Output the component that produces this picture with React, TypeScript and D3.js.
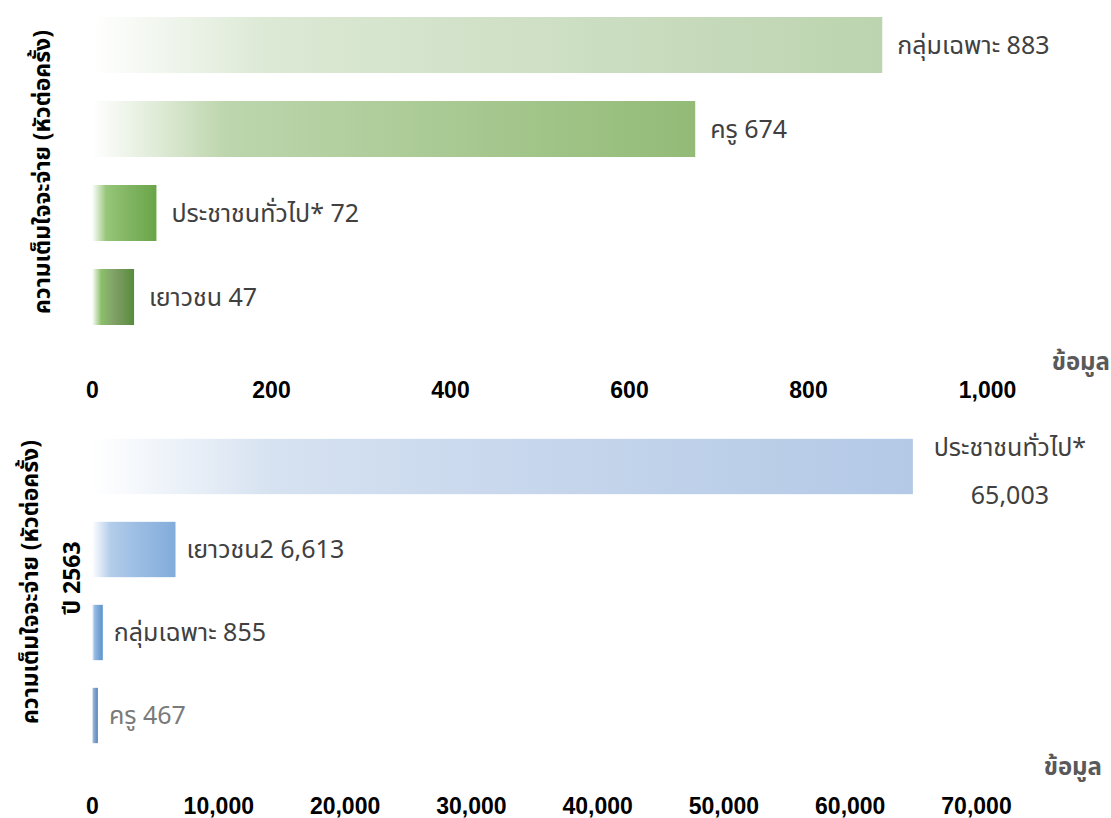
import React, { useEffect, useRef } from "react";
import * as d3 from "d3";

// Willingness to pay, two panels
const topCategories = ["กลุ่มเฉพาะ", "ครู", "ประชาชนทั่วไป*", "เยาวชน"];
const topValues = [883, 674, 72, 47];
const topColors = ["#bcd4af", "#93bb77", "#6aa548", "#578c3c"];
const topMidColors = ["#dce9d5", "#bdd6ad", "#96c678", "#8cbf6a"];
const topMid2Colors = ["#cfe0c6", "#abcb96", "#82b564", "#7f9e67"];
const topTicks = [0, 200, 400, 600, 800, 1000];

const bottomCategories = ["ประชาชนทั่วไป*", "เยาวชน2", "กลุ่มเฉพาะ", "ครู"];
const bottomValues = [65003, 6613, 855, 467];
const bottomColors = ["#b3c9e6", "#82acdb", "#5c94cf", "#5985bb"];
const bottomMidColors = ["#d6e2f1", "#b3cdea", "#9cbde2", "#9ab6d6"];
const bottomMid2Colors = ["#c6d6ec", "#9bbde3", "#7ca8d8", "#7a9ec8"];
const bottomTicks = [0, 10000, 20000, 30000, 40000, 50000, 60000, 70000];

const W = 1111;
const H = 818;
const THAI = "'Noto Sans Thai', 'Noto Sans', Tahoma, Loma, Garuda, sans-serif";
const NUM = "'Liberation Sans', Arial, sans-serif";

export default function App() {
  const ref = useRef<SVGSVGElement | null>(null);

  useEffect(() => {
    const svg = d3.select(ref.current);
    svg.selectAll("*").remove();
    const defs = svg.append("defs");
    const fmt = d3.format(",");

    type Panel = {
      id: string;
      cats: string[];
      vals: number[];
      colors: string[];
      mids: string[];
      mids2: string[];
      ticks: number[];
      domain: [number, number];
      xRange: [number, number];
      yRange: [number, number];
      tickY: number;
      unitX: number;
      unitY: number;
    };

    const drawPanel = (p: Panel) => {
      const x = d3.scaleLinear().domain(p.domain).range(p.xRange);
      const y = d3
        .scaleBand<string>()
        .domain(p.cats)
        .range(p.yRange)
        .paddingInner(1 / 3)
        .paddingOuter(1 / 6);

      p.cats.forEach((_c, i) => {
        const g = defs
          .append("linearGradient")
          .attr("id", `${p.id}-g${i}`)
          .attr("x1", "0")
          .attr("x2", "1")
          .attr("y1", "0")
          .attr("y2", "0");
        g.append("stop").attr("offset", "0%").attr("stop-color", "#ffffff");
        g.append("stop").attr("offset", "22%").attr("stop-color", p.mids[i]);
        g.append("stop").attr("offset", "55%").attr("stop-color", p.mids2[i]);
        g.append("stop").attr("offset", "100%").attr("stop-color", p.colors[i]);
      });

      svg
        .append("g")
        .selectAll("rect")
        .data(p.cats)
        .join("rect")
        .attr("x", x(0))
        .attr("y", (c) => y(c)!)
        .attr("width", (_c, i) => x(p.vals[i]) - x(0))
        .attr("height", y.bandwidth())
        .attr("fill", (_c, i) => `url(#${p.id}-g${i})`);

      // x axis: labels only
      const axis = d3
        .axisBottom(x)
        .tickValues(p.ticks)
        .tickSize(0)
        .tickPadding(0)
        .tickFormat((d) => fmt(d as number));
      const ga = svg
        .append("g")
        .attr("transform", `translate(0,${p.tickY})`)
        .call(axis);
      ga.select(".domain").remove();
      ga.selectAll("text")
        .attr("font-family", NUM)
        .attr("font-size", 23)
        .attr("font-weight", "bold")
        .attr("fill", "#000")
        .attr("dy", "0");

      svg
        .append("text")
        .attr("x", p.unitX)
        .attr("y", p.unitY)
        .attr("text-anchor", "end")
        .attr("font-family", THAI)
        .attr("font-weight", "bold")
        .attr("font-size", 24)
        .attr("fill", "#595959")
        .text("ข้อมูล");

      return { x, y };
    };

    const labelSize = 25;

    const top = drawPanel({
      id: "t",
      cats: topCategories,
      vals: topValues,
      colors: topColors,
      mids: topMidColors,
      mids2: topMid2Colors,
      ticks: topTicks,
      domain: [0, 1000],
      xRange: [92, 987],
      yRange: [3, 339],
      tickY: 398,
      unitX: 1110,
      unitY: 370,
    });

    topCategories.forEach((c, i) => {
      svg
        .append("text")
        .attr("x", top.x(topValues[i]) + 15)
        .attr("y", top.y(c)! + top.y.bandwidth() / 2)
        .attr("dy", "0.35em")
        .attr("font-family", THAI)
        .attr("font-size", labelSize)
        .attr("fill", "#404040")
        .text(`${c} ${fmt(topValues[i])}`);
    });

    const bot = drawPanel({
      id: "b",
      cats: bottomCategories,
      vals: bottomValues,
      colors: bottomColors,
      mids: bottomMidColors,
      mids2: bottomMid2Colors,
      ticks: bottomTicks,
      domain: [0, 70000],
      xRange: [92, 976],
      yRange: [425, 757],
      tickY: 814,
      unitX: 1102,
      unitY: 775,
    });

    bottomCategories.forEach((c, i) => {
      const cy = bot.y(c)! + bot.y.bandwidth() / 2;
      if (i === 0) {
        const cx = bot.x(bottomValues[i]) + 97;
        svg
          .append("text")
          .attr("x", cx)
          .attr("y", cy - 19)
          .attr("dy", "0.35em")
          .attr("text-anchor", "middle")
          .attr("font-family", THAI)
          .attr("font-size", labelSize)
          .attr("fill", "#404040")
          .text(c);
        svg
          .append("text")
          .attr("x", cx)
          .attr("y", cy + 29)
          .attr("dy", "0.35em")
          .attr("text-anchor", "middle")
          .attr("font-family", THAI)
          .attr("font-size", labelSize)
          .attr("fill", "#404040")
          .text(fmt(bottomValues[i]));
      } else {
        svg
          .append("text")
          .attr("x", bot.x(bottomValues[i]) + 11)
          .attr("y", cy)
          .attr("dy", "0.35em")
          .attr("font-family", THAI)
          .attr("font-size", labelSize)
          .attr("fill", i === 3 ? "#7a7a7a" : "#404040")
          .text(`${c} ${fmt(bottomValues[i])}`);
      }
    });

    // rotated axis titles
    const vTitle = (xPos: number, yPos: number, text: string) =>
      svg
        .append("text")
        .attr("transform", `translate(${xPos},${yPos}) rotate(-90)`)
        .attr("text-anchor", "middle")
        .attr("font-family", THAI)
        .attr("font-weight", "bold")
        .attr("font-size", 23)
        .attr("fill", "#000")
        .text(text);

    vTitle(50, 172, "ความเต็มใจจะจ่าย (หัวต่อครั้ง)");
    vTitle(38, 582, "ความเต็มใจจะจ่าย (หัวต่อครั้ง)");
    vTitle(80, 578, "ปี 2563");
  }, []);

  return (
    <svg
      ref={ref}
      width={W}
      height={H}
      style={{ position: "absolute", left: 0, top: 0, background: "#fff" }}
    />
  );
}
